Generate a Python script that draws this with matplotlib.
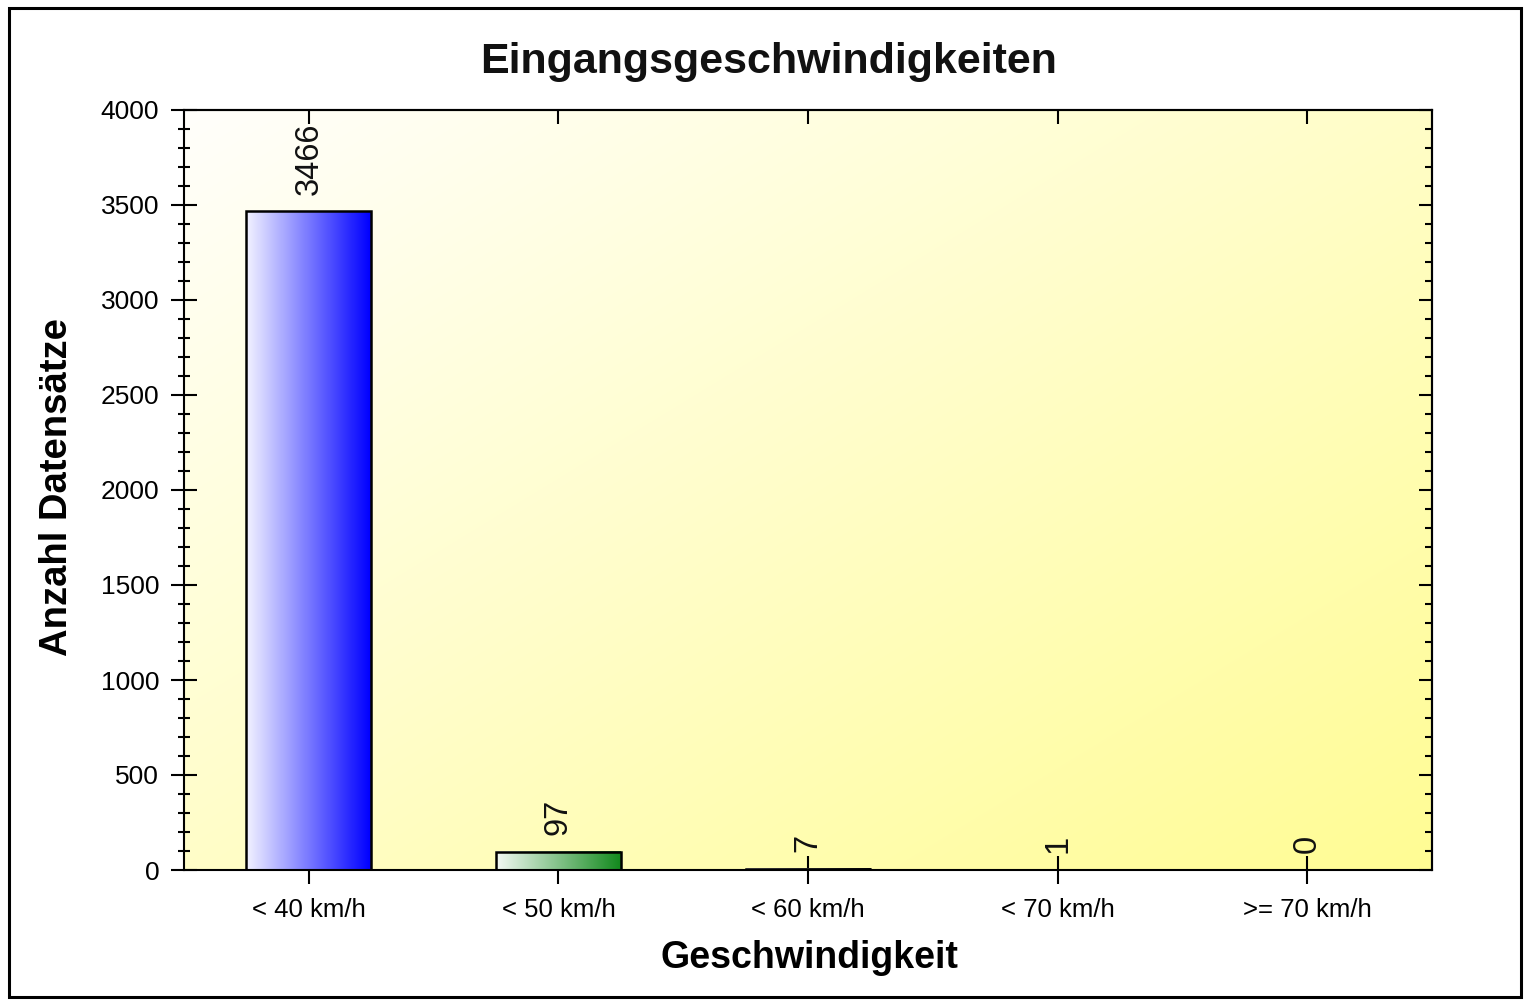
import numpy as np
import matplotlib.pyplot as plt
from matplotlib.patches import Rectangle
from matplotlib.ticker import MultipleLocator, NullFormatter

plt.rcParams["font.family"] = ["Liberation Sans", "DejaVu Sans"]

# data
categories = ["< 40 km/h", "< 50 km/h", "< 60 km/h", "< 70 km/h", ">= 70 km/h"]
counts = [3466, 97, 7, 1, 0]
bar_colors = ["#0000ff", "#138a1e", "#101010", "#ff8c00", "#800080"]

title = "Eingangsgeschwindigkeiten"
x_label = "Geschwindigkeit"
y_label = "Anzahl Datensätze"

W, H = 1530, 1001
fig = plt.figure(figsize=(W / 100, H / 100), dpi=100)
fig.patch.set_facecolor("white")

ax = fig.add_axes([184 / W, 1 - 870 / H, (1432 - 184) / W, (870 - 110) / H])
ax.set_xlim(-0.5, len(categories) - 0.5)
ax.set_ylim(0, 4000)

# background gradient: near white top-left to yellow bottom-right
n = 200
gx, gy = np.meshgrid(np.linspace(0, 1, n), np.linspace(0, 1, n))
t = (gx + gy) / 2
top_left = np.array([1.0, 1.0, 0.985])
bottom_right = np.array([1.0, 0.99, 0.58])
bg = top_left[None, None, :] * (1 - t[..., None]) + bottom_right[None, None, :] * t[..., None]
ax.imshow(bg, extent=(0, 1, 0, 1), transform=ax.transAxes, aspect="auto",
          origin="upper", zorder=0, interpolation="bilinear")

# bars with horizontal white -> colour gradient
bar_width = 0.5
bars = ax.bar(range(len(categories)), counts, width=bar_width, facecolor="none",
              edgecolor="black", linewidth=1.8, zorder=6)
for bar, col in zip(bars, bar_colors):
    h = bar.get_height()
    if h <= 0:
        continue
    rgb = np.array(plt.matplotlib.colors.to_rgb(col))
    s = np.linspace(0.05, 1, 100)
    grad = np.ones(3)[None, :] * (1 - s[:, None]) + rgb[None, :] * s[:, None]
    grad = grad[None, :, :]
    x0 = bar.get_x()
    ax.imshow(grad, extent=(x0, x0 + bar.get_width(), 0, h), aspect="auto",
              zorder=2, interpolation="bilinear")

ax.set_xlim(-0.5, len(categories) - 0.5)
ax.set_ylim(0, 4000)

# value labels
for i, v in enumerate(counts):
    ax.annotate(str(v), (i, v), xytext=(0, 12), textcoords="offset points",
                rotation=90, ha="center", va="bottom", fontsize=23.5, color="#111111",
                zorder=4)

# axes styling
for sp in ax.spines.values():
    sp.set_linewidth(1.5)
    sp.set_zorder(5)

ax.set_xticks(range(len(categories)))
ax.set_xticklabels(categories)
ax.yaxis.set_major_locator(MultipleLocator(500))
ax.yaxis.set_minor_locator(MultipleLocator(100))
ax.tick_params(axis="x", direction="inout", length=20, width=1.5, labelsize=18.5, pad=10)
ax.tick_params(axis="y", which="major", direction="inout", length=18.7, width=1.5,
               labelsize=19, pad=8.5)
ax.tick_params(axis="y", which="minor", direction="inout", length=8.6, width=1.5)

top = ax.secondary_xaxis("top")
top.set_xticks(range(len(categories)))
top.xaxis.set_major_formatter(NullFormatter())
top.tick_params(direction="in", length=10, width=1.5)
top.spines["top"].set_linewidth(1.5)

right = ax.secondary_yaxis("right")
right.yaxis.set_major_locator(MultipleLocator(500))
right.yaxis.set_minor_locator(MultipleLocator(100))
right.yaxis.set_major_formatter(NullFormatter())
right.tick_params(which="major", direction="in", length=9.4, width=1.5)
right.tick_params(which="minor", direction="in", length=5, width=1.5)
right.spines["right"].set_linewidth(1.5)

# titles
fig.text(769 / W, 1 - 73 / H, title, ha="center", va="baseline", fontsize=31,
         fontweight="bold", color="#111111")
fig.text(809 / W, 1 - 968 / H, x_label, ha="center", va="baseline", fontsize=27,
         fontweight="bold")
fig.text(57 / W, 1 - 487 / H, y_label, ha="center", va="center", rotation=90,
         fontsize=27.5, fontweight="bold")

# outer frame
fig.patches.append(Rectangle((9 / W, 4 / H), (1521 - 9) / W, (997 - 8) / H,
                             transform=fig.transFigure, fill=False,
                             edgecolor="black", linewidth=2.2))

fig.savefig("out.png", dpi=100)
